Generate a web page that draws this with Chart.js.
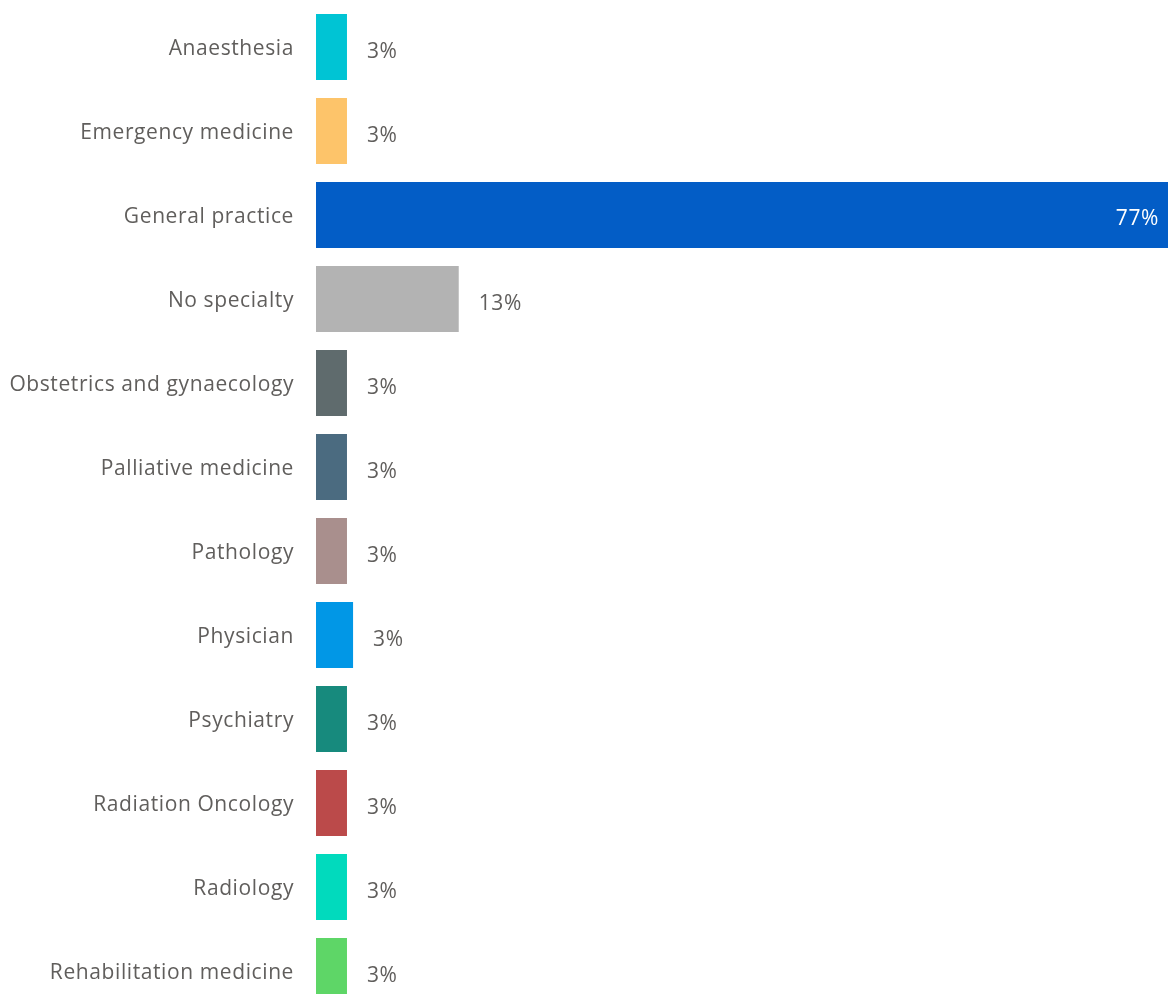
<!DOCTYPE html>
<html>
<head>
<meta charset="utf-8">
<script src="https://cdn.jsdelivr.net/npm/chart.js@4.4.1/dist/chart.umd.min.js"></script>
<style>
  html, body { margin: 0; padding: 0; background: #fff; }
  #wrap { width: 1168px; height: 994px; overflow: hidden; position: relative; }
  #chart { display: block; }
</style>
</head>
<body>
<div id="wrap">
  <canvas id="chart" width="1168" height="1013"></canvas>
</div>
<script>
// Specialty breakdown (share of respondents, %)
const specialties = [
    'Anaesthesia',
    'Emergency medicine',
    'General practice',
    'No specialty',
    'Obstetrics and gynaecology',
    'Palliative medicine',
    'Pathology',
    'Physician',
    'Psychiatry',
    'Radiation Oncology',
    'Radiology',
    'Rehabilitation medicine'
];
const shares = [2.8, 2.8, 77, 12.9, 2.8, 2.8, 2.8, 3.35, 2.8, 2.8, 2.8, 2.8];
const barColors = [
    '#00c4d4', '#fdc46a', '#035dc6', '#b3b3b3', '#5f6b6d', '#4b6b80',
    '#a98f8d', '#0197e6', '#178a7d', '#bb4a4a', '#01dabd', '#5ed667'
];

const textColor = '#605e5c';
const fontFamily = '"Open Sans", "Noto Sans", sans-serif';
const fontSize = 21;
const letterGap = '0.6px';

// slightly spaced letters, like the original font
const spacing = {
    id: 'spacing',
    beforeDraw(chart) {
        chart.ctx.letterSpacing = letterGap;
    }
};

// Draw the percentage next to (or inside) each bar
const valueLabels = {
    id: 'valueLabels',
    afterDatasetsDraw(chart) {
        const ctx = chart.ctx;
        const meta = chart.getDatasetMeta(0);
        ctx.save();
        ctx.letterSpacing = letterGap;
        ctx.font = fontSize + 'px ' + fontFamily;
        ctx.textBaseline = 'middle';
        meta.data.forEach((bar, i) => {
            const txt = Math.round(shares[i]) + '%';
            if (shares[i] > 50) {
                ctx.fillStyle = '#ffffff';
                ctx.textAlign = 'right';
                ctx.fillText(txt, bar.x - 9, bar.y + 4);
            } else {
                ctx.fillStyle = textColor;
                ctx.textAlign = 'left';
                ctx.fillText(txt, bar.x + 20, bar.y + 5);
            }
        });
        ctx.restore();
    }
};

const ctx = document.getElementById('chart').getContext('2d');
new Chart(ctx, {
    type: 'bar',
    data: {
        labels: specialties,
        datasets: [{
            data: shares,
            backgroundColor: barColors,
            borderWidth: 0,
            categoryPercentage: 1,
            barPercentage: 0.786
        }]
    },
    options: {
        indexAxis: 'y',
        responsive: false,
        animation: false,
        layout: { padding: { top: 5, right: 0, bottom: 0, left: 0 } },
        scales: {
            x: {
                display: false,
                min: 0,
                max: 77
            },
            y: {
                grid: { display: false, drawTicks: true, tickLength: 22 },
                border: { display: false },
                ticks: {
                    padding: 0,
                    labelOffset: 2,
                    color: textColor,
                    font: { family: fontFamily, size: fontSize }
                },
                afterFit(scale) {
                    scale.width = 316;
                    scale.paddingTop = 0;
                    scale.paddingBottom = 0;
                }
            }
        },
        plugins: {
            legend: { display: false },
            tooltip: { enabled: false }
        }
    },
    plugins: [spacing, valueLabels]
});
</script>
</body>
</html>
